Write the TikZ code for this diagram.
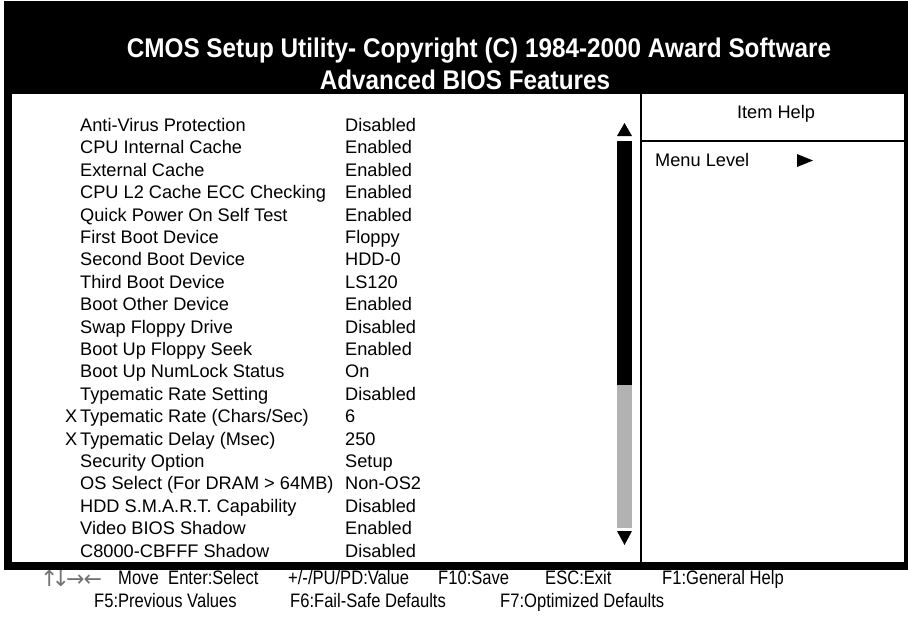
\documentclass[tikz,border=0pt]{standalone}
\usepackage{fontspec}
\setmainfont{Liberation Sans}
\newfontfamily\titlefont[FakeStretch=0.9]{Liberation Sans}
\newfontfamily\footfont[FakeStretch=0.85]{Liberation Sans}
\newfontfamily\arrowfont{DejaVu Sans}
\begin{document}
\begin{tikzpicture}[x=1pt,y=-1pt,
  item/.style={anchor=base west,inner sep=0pt,font=\fontsize{18.2}{20}\selectfont},
  foot/.style={anchor=base west,inner sep=0pt,font=\footfont\fontsize{19.5}{21}\selectfont},
  titletext/.style={anchor=base,inner sep=0pt,text=white,font=\titlefont\bfseries\fontsize{27}{30}\selectfont},
  barfill/.style={fill=black},
  graybar/.style={fill=black!30}]
\useasboundingbox (0,0) rectangle (908,622);
\fill[white] (0,0) rectangle (908,622);
% frame
\fill[barfill] (4,1) rectangle (908,94);
\fill[barfill] (4,94) rectangle (12,570);
\fill[barfill] (904,94) rectangle (908,570);
\fill[barfill] (4,562) rectangle (908,570);
\coordinate (dtop) at (641,94);
\coordinate (dbot) at (641,562);
\draw[line width=1.5pt] (dtop) -- (dbot);
\coordinate (hl) at (641,141);
\coordinate (hr) at (904,141);
\draw[line width=2pt] (hl) -- (hr);
% title
\node[titletext] (t1) at (479,57) {CMOS Setup Utility- Copyright (C) 1984-2000 Award Software};
\node[titletext] (t2) at (465,89) {Advanced BIOS Features};
% help panel
\node[anchor=base,inner sep=0pt,font=\fontsize{18.2}{20}\selectfont] (ih) at (776,118) {Item Help};
\node[item] (ml) at (655,166.5) {Menu Level};
\fill (797,154) -- (797,167) -- (813,160.5) -- cycle;
% scrollbar
\fill (617,136) -- (632,136) -- (624.5,123) -- cycle;
\fill[barfill] (617,141) rectangle (632,385);
\fill[graybar] (617,385) rectangle (632,528);
\fill (617,531) -- (632,531) -- (624.5,545) -- cycle;
% items
\foreach \lab/\val [count=\i] in {
 {Anti-Virus Protection}/{Disabled},
 {CPU Internal Cache}/{Enabled},
 {External Cache}/{Enabled},
 {CPU L2 Cache ECC Checking}/{Enabled},
 {Quick Power On Self Test}/{Enabled},
 {First Boot Device}/{Floppy},
 {Second Boot Device}/{HDD-0},
 {Third Boot Device}/{LS120},
 {Boot Other Device}/{Enabled},
 {Swap Floppy Drive}/{Disabled},
 {Boot Up Floppy Seek}/{Enabled},
 {Boot Up NumLock Status}/{On},
 {Typematic Rate Setting}/{Disabled},
 {Typematic Rate (Chars/Sec)}/{6},
 {Typematic Delay (Msec)}/{250},
 {Security Option}/{Setup},
 {OS Select (For DRAM > 64MB)}/{Non-OS2},
 {HDD S.M.A.R.T. Capability}/{Disabled},
 {Video BIOS Shadow}/{Enabled},
 {C8000-CBFFF Shadow}/{Disabled}} {
  \node[item] (lab\i) at (80,{131.5+22.4*(\i-1)}) {\lab};
  \node[item] (val\i) at (345,{131.5+22.4*(\i-1)}) {\val};
}
\node[item] (x14) at (65,422.7) {X};
\node[item] (x15) at (65,445.1) {X};
% footer
\node[anchor=base west,inner sep=0pt,text=black!55,font=\arrowfont\fontsize{22}{24}\selectfont] (arr) at (40,586) {↑\kern-7pt↓\kern-4pt→\kern-1pt←};
\node[foot] (f1) at (118,584) {Move};
\node[foot] (f2) at (168,584) {Enter:Select};
\node[foot] (f3) at (288,584) {+/-/PU/PD:Value};
\node[foot] (f4) at (438,584) {F10:Save};
\node[foot] (f5) at (545,584) {ESC:Exit};
\node[foot] (f6) at (662,584) {F1:General Help};
\node[foot] (g1) at (94,607) {F5:Previous Values};
\node[foot] (g2) at (290,607) {F6:Fail-Safe Defaults};
\node[foot] (g3) at (500,607) {F7:Optimized Defaults};
\end{tikzpicture}
\end{document}
